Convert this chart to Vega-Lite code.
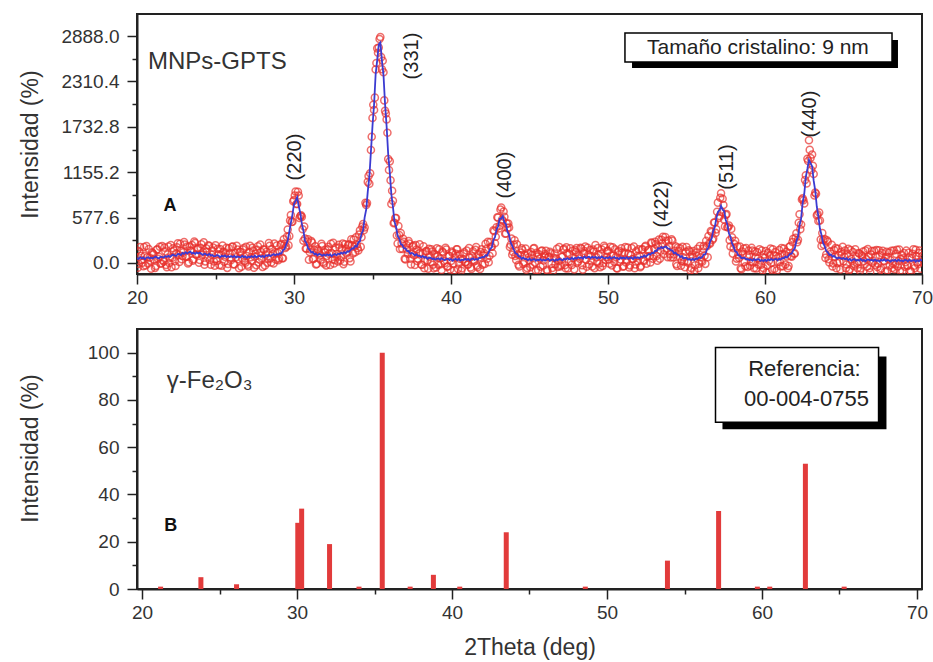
{
"$schema":"https://vega.github.io/schema/vega-lite/v6.json",
"background":"white",
"padding":{"left":18,"top":13,"right":0,"bottom":0},
"spacing":20,
"config":{"font":"Liberation Sans","view":{"stroke":"#222","strokeWidth":2},
"axis":{"domainColor":"#222","domainWidth":2,"tickColor":"#222","tickWidth":1.5,"labelColor":"#333","labelFontSize":19,"labelFont":"Liberation Sans","titleFont":"Liberation Sans","titleFontSize":23,"titleFontWeight":"normal","titleColor":"#333","grid":false,"labelFlush":false,"labelOverlap":false}},
"datasets":{
"xrd":[
{"t":20,"v":160,"f":65},{"t":20.1,"v":-10,"f":50},{"t":20.2,"v":203,"f":73},{"t":20.3,"v":38,"f":58},{"t":20.4,"v":-40,"f":70},{"t":20.5,"v":87,"f":47},{"t":20.6,"v":217,"f":67},{"t":20.7,"v":-7,"f":73},{"t":20.8,"v":68,"f":58},{"t":20.9,"v":-73,"f":67},
{"t":21,"v":128,"f":58},{"t":21.1,"v":43,"f":73},{"t":21.2,"v":-38,"f":82},{"t":21.3,"v":174,"f":64},{"t":21.4,"v":78,"f":58},{"t":21.5,"v":-10,"f":80},{"t":21.6,"v":216,"f":76},{"t":21.7,"v":18,"f":68},{"t":21.8,"v":148,"f":88},{"t":21.9,"v":-54,"f":76},
{"t":22,"v":210,"f":90},{"t":22.1,"v":68,"f":78},{"t":22.2,"v":-55,"f":95},{"t":22.3,"v":188,"f":108},{"t":22.4,"v":23,"f":93},{"t":22.5,"v":122,"f":92},{"t":22.6,"v":250,"f":115},{"t":22.7,"v":13,"f":113},{"t":22.8,"v":151,"f":101},{"t":22.9,"v":89,"f":129},
{"t":23,"v":267,"f":117},{"t":23.1,"v":77,"f":137},{"t":23.2,"v":209,"f":119},{"t":23.3,"v":10,"f":135},{"t":23.4,"v":160,"f":145},{"t":23.5,"v":230,"f":120},{"t":23.6,"v":47,"f":132},{"t":23.7,"v":255,"f":115},{"t":23.8,"v":105,"f":135},{"t":23.9,"v":187,"f":122},
{"t":24,"v":37,"f":132},{"t":24.1,"v":239,"f":114},{"t":24.2,"v":138,"f":103},{"t":24.3,"v":-21,"f":119},{"t":24.4,"v":186,"f":111},{"t":24.5,"v":77,"f":97},{"t":24.6,"v":217,"f":117},{"t":24.7,"v":-21,"f":94},{"t":24.8,"v":157,"f":102},{"t":24.9,"v":19,"f":84},
{"t":25,"v":226,"f":86},{"t":25.1,"v":26,"f":101},{"t":25.2,"v":112,"f":92},{"t":25.3,"v":178,"f":73},{"t":25.4,"v":-36,"f":94},{"t":25.5,"v":143,"f":83},{"t":25.6,"v":81,"f":96},{"t":25.7,"v":194,"f":74},{"t":25.8,"v":-12,"f":88},{"t":25.9,"v":121,"f":76},
{"t":26,"v":39,"f":89},{"t":26.1,"v":209,"f":74},{"t":26.2,"v":-18,"f":92},{"t":26.3,"v":73,"f":68},{"t":26.4,"v":172,"f":82},{"t":26.5,"v":-66,"f":79},{"t":26.6,"v":140,"f":70},{"t":26.7,"v":57,"f":92},{"t":26.8,"v":189,"f":74},{"t":26.9,"v":4,"f":84},
{"t":27,"v":90,"f":65},{"t":27.1,"v":-43,"f":82},{"t":27.2,"v":219,"f":74},{"t":27.3,"v":28,"f":88},{"t":27.4,"v":157,"f":72},{"t":27.5,"v":79,"f":94},{"t":27.6,"v":-29,"f":71},{"t":27.7,"v":214,"f":84},{"t":27.8,"v":46,"f":91},{"t":27.9,"v":138,"f":78},
{"t":28,"v":-49,"f":91},{"t":28.1,"v":168,"f":73},{"t":28.2,"v":107,"f":97},{"t":28.3,"v":4,"f":89},{"t":28.4,"v":253,"f":103},{"t":28.5,"v":57,"f":87},{"t":28.6,"v":177,"f":102},{"t":28.7,"v":-7,"f":113},{"t":28.8,"v":136,"f":96},{"t":28.9,"v":222,"f":112},
{"t":29,"v":36,"f":106},{"t":29.1,"v":144,"f":124},{"t":29.2,"v":245,"f":120},{"t":29.3,"v":60,"f":165},{"t":29.4,"v":241,"f":176},{"t":29.5,"v":208,"f":233},{"t":29.6,"v":425,"f":285},{"t":29.7,"v":342,"f":397},{"t":29.8,"v":611,"f":511},{"t":29.9,"v":526,"f":616},
{"t":30,"v":800,"f":750},{"t":30.1,"v":909,"f":789},{"t":30.2,"v":750,"f":835},{"t":30.3,"v":859,"f":724},{"t":30.4,"v":597,"f":637},{"t":30.5,"v":587,"f":497},{"t":30.6,"v":282,"f":412},{"t":30.7,"v":311,"f":281},{"t":30.8,"v":181,"f":251},{"t":30.9,"v":301,"f":186},
{"t":31,"v":139,"f":169},{"t":31.1,"v":279,"f":134},{"t":31.2,"v":47,"f":142},{"t":31.3,"v":166,"f":111},{"t":31.4,"v":-20,"f":120},{"t":31.5,"v":176,"f":96},{"t":31.6,"v":121,"f":116},{"t":31.7,"v":42,"f":107},{"t":31.8,"v":217,"f":92},{"t":31.9,"v":-7,"f":108},
{"t":32,"v":164,"f":94},{"t":32.1,"v":91,"f":111},{"t":32.2,"v":207,"f":97},{"t":32.3,"v":-26,"f":109},{"t":32.4,"v":122,"f":87},{"t":32.5,"v":256,"f":106},{"t":32.6,"v":39,"f":114},{"t":32.7,"v":113,"f":98},{"t":32.8,"v":18,"f":118},{"t":32.9,"v":197,"f":112},
{"t":33,"v":76,"f":131},{"t":33.1,"v":248,"f":118},{"t":33.2,"v":17,"f":137},{"t":33.3,"v":184,"f":124},{"t":33.4,"v":139,"f":149},{"t":33.5,"v":238,"f":143},{"t":33.6,"v":20,"f":165},{"t":33.7,"v":228,"f":188},{"t":33.8,"v":297,"f":182},{"t":33.9,"v":138,"f":218},
{"t":34,"v":233,"f":208},{"t":34.1,"v":160,"f":265},{"t":34.2,"v":415,"f":275},{"t":34.3,"v":328,"f":373},{"t":34.4,"v":495,"f":415},{"t":34.5,"v":451,"f":581},{"t":34.6,"v":738,"f":683},{"t":34.7,"v":1032,"f":912},{"t":34.8,"v":1008,"f":1098},{"t":34.9,"v":1437,"f":1417},
{"t":35,"v":1844,"f":1744},{"t":35.1,"v":1947,"f":2017},{"t":35.2,"v":2461,"f":2401},{"t":35.3,"v":2731,"f":2581},{"t":35.4,"v":2741,"f":2781},{"t":35.5,"v":2876,"f":2806},{"t":35.6,"v":2466,"f":2576},{"t":35.7,"v":2426,"f":2391},{"t":35.8,"v":1937,"f":2022},{"t":35.9,"v":1827,"f":1737},
{"t":36,"v":1323,"f":1383},{"t":36.1,"v":1293,"f":1158},{"t":36.2,"v":751,"f":876},{"t":36.3,"v":792,"f":717},{"t":36.4,"v":511,"f":526},{"t":36.5,"v":571,"f":461},{"t":36.6,"v":249,"f":344},{"t":36.7,"v":356,"f":311},{"t":36.8,"v":381,"f":241},{"t":36.9,"v":180,"f":230},
{"t":37,"v":271,"f":186},{"t":37.1,"v":46,"f":186},{"t":37.2,"v":172,"f":152},{"t":37.3,"v":278,"f":153},{"t":37.4,"v":53,"f":118},{"t":37.5,"v":118,"f":128},{"t":37.6,"v":222,"f":117},{"t":37.7,"v":-25,"f":95},{"t":37.8,"v":171,"f":111},{"t":37.9,"v":53,"f":88},
{"t":38,"v":238,"f":93},{"t":38.1,"v":-18,"f":72},{"t":38.2,"v":120,"f":90},{"t":38.3,"v":-66,"f":69},{"t":38.4,"v":148,"f":78},{"t":38.5,"v":32,"f":52},{"t":38.6,"v":182,"f":67},{"t":38.7,"v":13,"f":68},{"t":38.8,"v":147,"f":52},{"t":38.9,"v":-68,"f":57},
{"t":39,"v":82,"f":42},{"t":39.1,"v":186,"f":56},{"t":39.2,"v":-21,"f":59},{"t":39.3,"v":57,"f":42},{"t":39.4,"v":-90,"f":60},{"t":39.5,"v":134,"f":44},{"t":39.6,"v":0,"f":35},{"t":39.7,"v":170,"f":50},{"t":39.8,"v":-45,"f":55},{"t":39.9,"v":92,"f":37},
{"t":40,"v":25,"f":50},{"t":40.1,"v":129,"f":29},{"t":40.2,"v":-96,"f":44},{"t":40.3,"v":117,"f":52},{"t":40.4,"v":174,"f":34},{"t":40.5,"v":-6,"f":54},{"t":40.6,"v":51,"f":31},{"t":40.7,"v":-68,"f":42},{"t":40.8,"v":117,"f":37},{"t":40.9,"v":7,"f":52},
{"t":41,"v":159,"f":39},{"t":41.1,"v":-18,"f":52},{"t":41.2,"v":66,"f":31},{"t":41.3,"v":-75,"f":50},{"t":41.4,"v":148,"f":58},{"t":41.5,"v":25,"f":40},{"t":41.6,"v":202,"f":52},{"t":41.7,"v":-53,"f":42},{"t":41.8,"v":69,"f":64},{"t":41.9,"v":140,"f":65},
{"t":42,"v":-23,"f":77},{"t":42.1,"v":126,"f":71},{"t":42.2,"v":243,"f":98},{"t":42.3,"v":53,"f":93},{"t":42.4,"v":9,"f":139},{"t":42.5,"v":266,"f":181},{"t":42.6,"v":207,"f":197},{"t":42.7,"v":416,"f":291},{"t":42.8,"v":252,"f":327},{"t":42.9,"v":454,"f":424},
{"t":43,"v":577,"f":467},{"t":43.1,"v":475,"f":565},{"t":43.2,"v":705,"f":565},{"t":43.3,"v":535,"f":595},{"t":43.4,"v":587,"f":517},{"t":43.5,"v":376,"f":496},{"t":43.6,"v":444,"f":399},{"t":43.7,"v":451,"f":356},{"t":43.8,"v":232,"f":262},{"t":43.9,"v":104,"f":219},
{"t":44,"v":232,"f":172},{"t":44.1,"v":88,"f":123},{"t":44.2,"v":238,"f":118},{"t":44.3,"v":-22,"f":83},{"t":44.4,"v":97,"f":82},{"t":44.5,"v":186,"f":51},{"t":44.6,"v":-13,"f":67},{"t":44.7,"v":100,"f":50},{"t":44.8,"v":-86,"f":54},{"t":44.9,"v":124,"f":34},
{"t":45,"v":35,"f":55},{"t":45.1,"v":139,"f":34},{"t":45.2,"v":-23,"f":42},{"t":45.3,"v":189,"f":49},{"t":45.4,"v":-93,"f":27},{"t":45.5,"v":83,"f":43},{"t":45.6,"v":110,"f":35},{"t":45.7,"v":-46,"f":49},{"t":45.8,"v":160,"f":30},{"t":45.9,"v":33,"f":43},
{"t":46,"v":115,"f":30},{"t":46.1,"v":-85,"f":45},{"t":46.2,"v":77,"f":52},{"t":46.3,"v":143,"f":28},{"t":46.4,"v":-10,"f":40},{"t":46.5,"v":-100,"f":45},{"t":46.6,"v":120,"f":25},{"t":46.7,"v":56,"f":46},{"t":46.8,"v":-50,"f":35},{"t":46.9,"v":203,"f":53},
{"t":47,"v":-29,"f":46},{"t":47.1,"v":78,"f":33},{"t":47.2,"v":180,"f":55},{"t":47.3,"v":-68,"f":42},{"t":47.4,"v":128,"f":63},{"t":47.5,"v":20,"f":50},{"t":47.6,"v":186,"f":46},{"t":47.7,"v":-24,"f":66},{"t":47.8,"v":64,"f":44},{"t":47.9,"v":165,"f":65},
{"t":48,"v":190,"f":55},{"t":48.1,"v":20,"f":75},{"t":48.2,"v":56,"f":61},{"t":48.3,"v":183,"f":73},{"t":48.4,"v":-84,"f":56},{"t":48.5,"v":152,"f":82},{"t":48.6,"v":43,"f":63},{"t":48.7,"v":194,"f":74},{"t":48.8,"v":-20,"f":80},{"t":48.9,"v":90,"f":60},
{"t":49,"v":-45,"f":80},{"t":49.1,"v":146,"f":66},{"t":49.2,"v":227,"f":77},{"t":49.3,"v":13,"f":58},{"t":49.4,"v":109,"f":74},{"t":49.5,"v":-54,"f":61},{"t":49.6,"v":172,"f":82},{"t":49.7,"v":-3,"f":67},{"t":49.8,"v":198,"f":58},{"t":49.9,"v":80,"f":70},
{"t":50,"v":155,"f":60},{"t":50.1,"v":-8,"f":77},{"t":50.2,"v":95,"f":55},{"t":50.3,"v":199,"f":69},{"t":50.4,"v":17,"f":77},{"t":50.5,"v":72,"f":57},{"t":50.6,"v":-70,"f":65},{"t":50.7,"v":154,"f":49},{"t":50.8,"v":46,"f":71},{"t":50.9,"v":129,"f":59},
{"t":51,"v":-40,"f":70},{"t":51.1,"v":202,"f":57},{"t":51.2,"v":39,"f":74},{"t":51.3,"v":118,"f":53},{"t":51.4,"v":-30,"f":65},{"t":51.5,"v":189,"f":69},{"t":51.6,"v":50,"f":50},{"t":51.7,"v":-66,"f":74},{"t":51.8,"v":149,"f":64},{"t":51.9,"v":24,"f":74},
{"t":52,"v":89,"f":59},{"t":52.1,"v":-38,"f":82},{"t":52.2,"v":173,"f":73},{"t":52.3,"v":26,"f":96},{"t":52.4,"v":220,"f":80},{"t":52.5,"v":82,"f":97},{"t":52.6,"v":170,"f":115},{"t":52.7,"v":7,"f":107},{"t":52.8,"v":255,"f":130},{"t":52.9,"v":85,"f":125},
{"t":53,"v":271,"f":156},{"t":53.1,"v":88,"f":153},{"t":53.2,"v":209,"f":189},{"t":53.3,"v":54,"f":184},{"t":53.4,"v":294,"f":204},{"t":53.5,"v":332,"f":187},{"t":53.6,"v":161,"f":206},{"t":53.7,"v":281,"f":211},{"t":53.8,"v":75,"f":185},{"t":53.9,"v":217,"f":182},
{"t":54,"v":70,"f":160},{"t":54.1,"v":284,"f":159},{"t":54.2,"v":109,"f":124},{"t":54.3,"v":212,"f":132},{"t":54.4,"v":-38,"f":107},{"t":54.5,"v":154,"f":104},{"t":54.6,"v":187,"f":77},{"t":54.7,"v":29,"f":89},{"t":54.8,"v":72,"f":57},{"t":54.9,"v":-54,"f":66},
{"t":55,"v":204,"f":64},{"t":55.1,"v":3,"f":43},{"t":55.2,"v":145,"f":50},{"t":55.3,"v":-63,"f":37},{"t":55.4,"v":80,"f":55},{"t":55.5,"v":-100,"f":35},{"t":55.6,"v":131,"f":56},{"t":55.7,"v":181,"f":51},{"t":55.8,"v":-8,"f":72},{"t":55.9,"v":73,"f":63},
{"t":56,"v":15,"f":75},{"t":56.1,"v":215,"f":110},{"t":56.2,"v":-11,"f":109},{"t":56.3,"v":214,"f":169},{"t":56.4,"v":343,"f":193},{"t":56.5,"v":246,"f":271},{"t":56.6,"v":394,"f":309},{"t":56.7,"v":313,"f":408},{"t":56.8,"v":516,"f":456},{"t":56.9,"v":428,"f":568},
{"t":57,"v":768,"f":648},{"t":57.1,"v":598,"f":668},{"t":57.2,"v":887,"f":727},{"t":57.3,"v":818,"f":678},{"t":57.4,"v":552,"f":662},{"t":57.5,"v":612,"f":547},{"t":57.6,"v":455,"f":490},{"t":57.7,"v":478,"f":378},{"t":57.8,"v":209,"f":334},{"t":57.9,"v":328,"f":248},
{"t":58,"v":188,"f":208},{"t":58.1,"v":284,"f":149},{"t":58.2,"v":56,"f":141},{"t":58.3,"v":107,"f":97},{"t":58.4,"v":208,"f":93},{"t":58.5,"v":-80,"f":60},{"t":58.6,"v":115,"f":65},{"t":58.7,"v":12,"f":67},{"t":58.8,"v":190,"f":45},{"t":58.9,"v":-50,"f":50},
{"t":59,"v":106,"f":36},{"t":59.1,"v":16,"f":46},{"t":59.2,"v":158,"f":28},{"t":59.3,"v":-65,"f":50},{"t":59.4,"v":76,"f":36},{"t":59.5,"v":140,"f":45},{"t":59.6,"v":-22,"f":48},{"t":59.7,"v":32,"f":27},{"t":59.8,"v":157,"f":37},{"t":59.9,"v":-65,"f":25},
{"t":60,"v":67,"f":42},{"t":60.1,"v":-120,"f":25},{"t":60.2,"v":131,"f":46},{"t":60.3,"v":94,"f":34},{"t":60.4,"v":2,"f":52},{"t":60.5,"v":174,"f":34},{"t":60.6,"v":-76,"f":44},{"t":60.7,"v":89,"f":54},{"t":60.8,"v":17,"f":32},{"t":60.9,"v":164,"f":54},
{"t":61,"v":-43,"f":42},{"t":61.1,"v":114,"f":64},{"t":61.2,"v":183,"f":58},{"t":61.3,"v":-19,"f":81},{"t":61.4,"v":84,"f":69},{"t":61.5,"v":-38,"f":92},{"t":61.6,"v":212,"f":117},{"t":61.7,"v":79,"f":119},{"t":61.8,"v":309,"f":164},{"t":61.9,"v":122,"f":187},
{"t":62,"v":379,"f":279},{"t":62.1,"v":296,"f":331},{"t":62.2,"v":620,"f":480},{"t":62.3,"v":490,"f":565},{"t":62.4,"v":824,"f":769},{"t":62.5,"v":758,"f":878},{"t":62.6,"v":1116,"f":1096},{"t":62.7,"v":1326,"f":1196},{"t":62.8,"v":1562,"f":1312},{"t":62.9,"v":1335,"f":1270},
{"t":63,"v":1381,"f":1231},{"t":63.1,"v":1132,"f":1047},{"t":63.2,"v":895,"f":920},{"t":63.3,"v":606,"f":716},{"t":63.4,"v":535,"f":595},{"t":63.5,"v":540,"f":435},{"t":63.6,"v":216,"f":356},{"t":63.7,"v":293,"f":253},{"t":63.8,"v":304,"f":214},{"t":63.9,"v":108,"f":153},
{"t":64,"v":271,"f":136},{"t":64.1,"v":7,"f":102},{"t":64.2,"v":117,"f":107},{"t":64.3,"v":-44,"f":81},{"t":64.4,"v":166,"f":91},{"t":64.5,"v":189,"f":69},{"t":64.6,"v":1,"f":56},{"t":64.7,"v":101,"f":71},{"t":64.8,"v":-82,"f":63},{"t":64.9,"v":111,"f":51},
{"t":65,"v":22,"f":62},{"t":65.1,"v":160,"f":45},{"t":65.2,"v":-20,"f":60},{"t":65.3,"v":181,"f":36},{"t":65.4,"v":-79,"f":51},{"t":65.5,"v":49,"f":29},{"t":65.6,"v":139,"f":44},{"t":65.7,"v":-15,"f":50},{"t":65.8,"v":81,"f":31},{"t":65.9,"v":-65,"f":40},
{"t":66,"v":121,"f":31},{"t":66.1,"v":-70,"f":50},{"t":66.2,"v":87,"f":27},{"t":66.3,"v":24,"f":39},{"t":66.4,"v":158,"f":23},{"t":66.5,"v":-48,"f":42},{"t":66.6,"v":80,"f":45},{"t":66.7,"v":-119,"f":31},{"t":66.8,"v":151,"f":41},{"t":66.9,"v":29,"f":24},
{"t":67,"v":-26,"f":44},{"t":67.1,"v":166,"f":26},{"t":67.2,"v":-10,"f":35},{"t":67.3,"v":100,"f":20},{"t":67.4,"v":-68,"f":42},{"t":67.5,"v":154,"f":29},{"t":67.6,"v":22,"f":47},{"t":67.7,"v":80,"f":25},{"t":67.8,"v":-97,"f":38},{"t":67.9,"v":132,"f":32},
{"t":68,"v":34,"f":19},{"t":68.1,"v":-63,"f":37},{"t":68.2,"v":158,"f":28},{"t":68.3,"v":-19,"f":41},{"t":68.4,"v":167,"f":22},{"t":68.5,"v":24,"f":44},{"t":68.6,"v":-99,"f":26},{"t":68.7,"v":103,"f":33},{"t":68.8,"v":61,"f":21},{"t":68.9,"v":-46,"f":39},
{"t":69,"v":157,"f":37},{"t":69.1,"v":-31,"f":19},{"t":69.2,"v":69,"f":44},{"t":69.3,"v":-114,"f":26},{"t":69.4,"v":116,"f":31},{"t":69.5,"v":-36,"f":39},{"t":69.6,"v":167,"f":17},{"t":69.7,"v":6,"f":36},{"t":69.8,"v":127,"f":22},{"t":69.9,"v":-73,"f":42},
{"t":70,"v":90,"f":30}
],
"xrd2":[
{"t":20.05,"v":-60},{"t":20.15,"v":146},{"t":20.25,"v":91},{"t":20.35,"v":2},{"t":20.45,"v":202},{"t":20.55,"v":-32},{"t":20.65,"v":73},{"t":20.75,"v":179},{"t":20.85,"v":30},{"t":20.95,"v":136},
{"t":21.05,"v":112},{"t":21.15,"v":-62},{"t":21.25,"v":169},{"t":21.35,"v":55},{"t":21.45,"v":206},{"t":21.55,"v":-3},{"t":21.65,"v":34},{"t":21.75,"v":196},{"t":21.85,"v":-26},{"t":21.95,"v":107},
{"t":22.05,"v":0},{"t":22.15,"v":229},{"t":22.25,"v":68},{"t":22.35,"v":157},{"t":22.45,"v":-39},{"t":22.55,"v":200},{"t":22.65,"v":104},{"t":22.75,"v":243},{"t":22.85,"v":47},{"t":22.95,"v":136},
{"t":23.05,"v":234},{"t":23.15,"v":81},{"t":23.25,"v":-7},{"t":23.35,"v":210},{"t":23.45,"v":155},{"t":23.55,"v":30},{"t":23.65,"v":274},{"t":23.75,"v":107},{"t":23.85,"v":180},{"t":23.95,"v":3},
{"t":24.05,"v":195},{"t":24.15,"v":102},{"t":24.25,"v":264},{"t":24.35,"v":21},{"t":24.45,"v":143},{"t":24.55,"v":225},{"t":24.65,"v":42},{"t":24.75,"v":104},{"t":24.85,"v":196},{"t":24.95,"v":-36},
{"t":25.05,"v":52},{"t":25.15,"v":180},{"t":25.25,"v":-27},{"t":25.35,"v":107},{"t":25.45,"v":221},{"t":25.55,"v":15},{"t":25.65,"v":134},{"t":25.75,"v":-62},{"t":25.85,"v":187},{"t":25.95,"v":71},
{"t":26.05,"v":205},{"t":26.15,"v":-15},{"t":26.25,"v":124},{"t":26.35,"v":219},{"t":26.45,"v":48},{"t":26.55,"v":143},{"t":26.65,"v":-47},{"t":26.75,"v":172},{"t":26.85,"v":22},{"t":26.95,"v":207},
{"t":27.05,"v":-23},{"t":27.15,"v":138},{"t":27.25,"v":73},{"t":27.35,"v":194},{"t":27.45,"v":-60},{"t":27.55,"v":116},{"t":27.65,"v":167},{"t":27.75,"v":8},{"t":27.85,"v":234},{"t":27.95,"v":60},
{"t":28.05,"v":176},{"t":28.15,"v":-33},{"t":28.25,"v":144},{"t":28.35,"v":56},{"t":28.45,"v":219},{"t":28.55,"v":7},{"t":28.65,"v":115},{"t":28.75,"v":248},{"t":28.85,"v":42},{"t":28.95,"v":130},
{"t":29.05,"v":58},{"t":29.15,"v":233},{"t":29.25,"v":60},{"t":29.35,"v":301},{"t":29.45,"v":191},{"t":29.55,"v":334},{"t":29.65,"v":224},{"t":29.75,"v":541},{"t":29.85,"v":523},{"t":29.95,"v":786},
{"t":30.05,"v":859},{"t":30.15,"v":750},{"t":30.25,"v":905},{"t":30.35,"v":573},{"t":30.45,"v":606},{"t":30.55,"v":430},{"t":30.65,"v":464},{"t":30.75,"v":185},{"t":30.85,"v":274},{"t":30.95,"v":41},
{"t":31.05,"v":171},{"t":31.15,"v":260},{"t":31.25,"v":55},{"t":31.35,"v":213},{"t":31.45,"v":-12},{"t":31.55,"v":159},{"t":31.65,"v":97},{"t":31.75,"v":244},{"t":31.85,"v":13},{"t":31.95,"v":136},
{"t":32.05,"v":-30},{"t":32.15,"v":175},{"t":32.25,"v":116},{"t":32.35,"v":246},{"t":32.45,"v":46},{"t":32.55,"v":-7},{"t":32.65,"v":196},{"t":32.75,"v":84},{"t":32.85,"v":233},{"t":32.95,"v":36},
{"t":33.05,"v":181},{"t":33.15,"v":-14},{"t":33.25,"v":237},{"t":33.35,"v":120},{"t":33.45,"v":227},{"t":33.55,"v":62},{"t":33.65,"v":303},{"t":33.75,"v":122},{"t":33.85,"v":209},{"t":33.95,"v":328},
{"t":34.05,"v":189},{"t":34.15,"v":363},{"t":34.25,"v":205},{"t":34.35,"v":463},{"t":34.45,"v":416},{"t":34.55,"v":765},{"t":34.65,"v":764},{"t":34.75,"v":1108},{"t":34.85,"v":1141},{"t":34.95,"v":1607},
{"t":35.05,"v":2013},{"t":35.15,"v":2104},{"t":35.25,"v":2544},{"t":35.35,"v":2674},{"t":35.45,"v":2850},{"t":35.55,"v":2619},{"t":35.65,"v":2574},{"t":35.75,"v":2069},{"t":35.85,"v":1903},{"t":35.95,"v":1657},
{"t":36.05,"v":1183},{"t":36.15,"v":1052},{"t":36.25,"v":918},{"t":36.35,"v":507},{"t":36.45,"v":572},{"t":36.55,"v":349},{"t":36.65,"v":471},{"t":36.75,"v":178},{"t":36.85,"v":250},{"t":36.95,"v":307},
{"t":37.05,"v":54},{"t":37.15,"v":231},{"t":37.25,"v":116},{"t":37.35,"v":248},{"t":37.45,"v":-18},{"t":37.55,"v":208},{"t":37.65,"v":100},{"t":37.75,"v":227},{"t":37.85,"v":25},{"t":37.95,"v":119},
{"t":38.05,"v":134},{"t":38.15,"v":-26},{"t":38.25,"v":214},{"t":38.35,"v":25},{"t":38.45,"v":151},{"t":38.55,"v":-72},{"t":38.65,"v":81},{"t":38.75,"v":174},{"t":38.85,"v":-23},{"t":38.95,"v":114},
{"t":39.05,"v":-57},{"t":39.15,"v":86},{"t":39.25,"v":175},{"t":39.35,"v":-17},{"t":39.45,"v":147},{"t":39.55,"v":26},{"t":39.65,"v":195},{"t":39.75,"v":-46},{"t":39.85,"v":88},{"t":39.95,"v":-83},
{"t":40.05,"v":147},{"t":40.15,"v":-9},{"t":40.25,"v":71},{"t":40.35,"v":176},{"t":40.45,"v":-75},{"t":40.55,"v":110},{"t":40.65,"v":-99},{"t":40.75,"v":46},{"t":40.85,"v":137},{"t":40.95,"v":12},
{"t":41.05,"v":-22},{"t":41.15,"v":189},{"t":41.25,"v":-56},{"t":41.35,"v":85},{"t":41.45,"v":37},{"t":41.55,"v":169},{"t":41.65,"v":-33},{"t":41.75,"v":115},{"t":41.85,"v":-76},{"t":41.95,"v":174},
{"t":42.05,"v":97},{"t":42.15,"v":-11},{"t":42.25,"v":179},{"t":42.35,"v":271},{"t":42.45,"v":92},{"t":42.55,"v":207},{"t":42.65,"v":123},{"t":42.75,"v":404},{"t":42.85,"v":334},{"t":42.95,"v":582},
{"t":43.05,"v":438},{"t":43.15,"v":680},{"t":43.25,"v":552},{"t":43.35,"v":655},{"t":43.45,"v":372},{"t":43.55,"v":501},{"t":43.65,"v":503},{"t":43.75,"v":203},{"t":43.85,"v":312},{"t":43.95,"v":140},
{"t":44.05,"v":290},{"t":44.15,"v":39},{"t":44.25,"v":107},{"t":44.35,"v":-44},{"t":44.45,"v":134},{"t":44.55,"v":166},{"t":44.65,"v":10},{"t":44.75,"v":185},{"t":44.85,"v":-63},{"t":44.95,"v":74},
{"t":45.05,"v":-53},{"t":45.15,"v":101},{"t":45.25,"v":185},{"t":45.35,"v":5},{"t":45.45,"v":129},{"t":45.55,"v":-92},{"t":45.65,"v":58},{"t":45.75,"v":153},{"t":45.85,"v":-32},{"t":45.95,"v":89},
{"t":46.05,"v":154},{"t":46.15,"v":-101},{"t":46.25,"v":78},{"t":46.35,"v":123},{"t":46.45,"v":-63},{"t":46.55,"v":63},{"t":46.65,"v":-16},{"t":46.75,"v":180},{"t":46.85,"v":26},{"t":46.95,"v":-43},
{"t":47.05,"v":78},{"t":47.15,"v":170},{"t":47.25,"v":-28},{"t":47.35,"v":199},{"t":47.45,"v":-69},{"t":47.55,"v":113},{"t":47.65,"v":20},{"t":47.75,"v":157},{"t":47.85,"v":-81},{"t":47.95,"v":141},
{"t":48.05,"v":3},{"t":48.15,"v":84},{"t":48.25,"v":195},{"t":48.35,"v":-29},{"t":48.45,"v":122},{"t":48.55,"v":208},{"t":48.65,"v":-47},{"t":48.75,"v":104},{"t":48.85,"v":164},{"t":48.95,"v":25},
{"t":49.05,"v":170},{"t":49.15,"v":-65},{"t":49.25,"v":75},{"t":49.35,"v":190},{"t":49.45,"v":-6},{"t":49.55,"v":114},{"t":49.65,"v":-37},{"t":49.75,"v":218},{"t":49.85,"v":37},{"t":49.95,"v":152},
{"t":50.05,"v":46},{"t":50.15,"v":206},{"t":50.25,"v":-30},{"t":50.35,"v":95},{"t":50.45,"v":174},{"t":50.55,"v":-66},{"t":50.65,"v":138},{"t":50.75,"v":13},{"t":50.85,"v":187},{"t":50.95,"v":-48},
{"t":51.05,"v":132},{"t":51.15,"v":7},{"t":51.25,"v":197},{"t":51.35,"v":-58},{"t":51.45,"v":102},{"t":51.55,"v":48},{"t":51.65,"v":209},{"t":51.75,"v":-20},{"t":51.85,"v":87},{"t":51.95,"v":174},
{"t":52.05,"v":-53},{"t":52.15,"v":170},{"t":52.25,"v":35},{"t":52.35,"v":205},{"t":52.45,"v":-8},{"t":52.55,"v":160},{"t":52.65,"v":89},{"t":52.75,"v":260},{"t":52.85,"v":56},{"t":52.95,"v":179},
{"t":53.05,"v":237},{"t":53.15,"v":30},{"t":53.25,"v":297},{"t":53.35,"v":156},{"t":53.45,"v":248},{"t":53.55,"v":112},{"t":53.65,"v":331},{"t":53.75,"v":180},{"t":53.85,"v":286},{"t":53.95,"v":113},
{"t":54.05,"v":303},{"t":54.15,"v":74},{"t":54.25,"v":154},{"t":54.35,"v":-14},{"t":54.45,"v":198},{"t":54.55,"v":82},{"t":54.65,"v":-34},{"t":54.75,"v":207},{"t":54.85,"v":15},{"t":54.95,"v":142},
{"t":55.05,"v":21},{"t":55.15,"v":163},{"t":55.25,"v":-93},{"t":55.35,"v":107},{"t":55.45,"v":153},{"t":55.55,"v":-30},{"t":55.65,"v":88},{"t":55.75,"v":-67},{"t":55.85,"v":216},{"t":55.95,"v":32},
{"t":56.05,"v":182},{"t":56.15,"v":92},{"t":56.25,"v":281},{"t":56.35,"v":73},{"t":56.45,"v":251},{"t":56.55,"v":406},{"t":56.65,"v":292},{"t":56.75,"v":515},{"t":56.85,"v":383},{"t":56.95,"v":651},
{"t":57.05,"v":572},{"t":57.15,"v":830},{"t":57.25,"v":650},{"t":57.35,"v":739},{"t":57.45,"v":465},{"t":57.55,"v":622},{"t":57.65,"v":454},{"t":57.75,"v":290},{"t":57.85,"v":434},{"t":57.95,"v":119},
{"t":58.05,"v":241},{"t":58.15,"v":18},{"t":58.25,"v":210},{"t":58.35,"v":64},{"t":58.45,"v":-66},{"t":58.55,"v":147},{"t":58.65,"v":184},{"t":58.75,"v":-41},{"t":58.85,"v":90},{"t":58.95,"v":157},
{"t":59.05,"v":-36},{"t":59.15,"v":192},{"t":59.25,"v":6},{"t":59.35,"v":145},{"t":59.45,"v":-71},{"t":59.55,"v":57},{"t":59.65,"v":176},{"t":59.75,"v":-24},{"t":59.85,"v":-94},{"t":59.95,"v":107},
{"t":60.05,"v":152},{"t":60.15,"v":-33},{"t":60.25,"v":28},{"t":60.35,"v":184},{"t":60.45,"v":-85},{"t":60.55,"v":97},{"t":60.65,"v":138},{"t":60.75,"v":-95},{"t":60.85,"v":77},{"t":60.95,"v":10},
{"t":61.05,"v":190},{"t":61.15,"v":-41},{"t":61.25,"v":110},{"t":61.35,"v":144},{"t":61.45,"v":-67},{"t":61.55,"v":206},{"t":61.65,"v":89},{"t":61.75,"v":266},{"t":61.85,"v":118},{"t":61.95,"v":320},
{"t":62.05,"v":264},{"t":62.15,"v":512},{"t":62.25,"v":430},{"t":62.35,"v":807},{"t":62.45,"v":798},{"t":62.55,"v":1055},{"t":62.65,"v":1013},{"t":62.75,"v":1298},{"t":62.85,"v":1439},{"t":62.95,"v":1183},
{"t":63.05,"v":1237},{"t":63.15,"v":859},{"t":63.25,"v":882},{"t":63.35,"v":621},{"t":63.45,"v":643},{"t":63.55,"v":300},{"t":63.65,"v":382},{"t":63.75,"v":232},{"t":63.85,"v":65},{"t":63.95,"v":288},
{"t":64.05,"v":47},{"t":64.15,"v":144},{"t":64.25,"v":232},{"t":64.35,"v":-7},{"t":64.45,"v":80},{"t":64.55,"v":-66},{"t":64.65,"v":180},{"t":64.75,"v":12},{"t":64.85,"v":144},{"t":64.95,"v":206},
{"t":65.05,"v":82},{"t":65.15,"v":-66},{"t":65.25,"v":117},{"t":65.35,"v":-99},{"t":65.45,"v":164},{"t":65.55,"v":22},{"t":65.65,"v":-39},{"t":65.75,"v":175},{"t":65.85,"v":-1},{"t":65.95,"v":128},
{"t":66.05,"v":-103},{"t":66.15,"v":102},{"t":66.25,"v":146},{"t":66.35,"v":-20},{"t":66.45,"v":50},{"t":66.55,"v":179},{"t":66.65,"v":-66},{"t":66.75,"v":109},{"t":66.85,"v":4},{"t":66.95,"v":154},
{"t":67.05,"v":83},{"t":67.15,"v":-52},{"t":67.25,"v":163},{"t":67.35,"v":-87},{"t":67.45,"v":128},{"t":67.55,"v":28},{"t":67.65,"v":-112},{"t":67.75,"v":143},{"t":67.85,"v":73},{"t":67.95,"v":-32},
{"t":68.05,"v":156},{"t":68.15,"v":-9},{"t":68.25,"v":-79},{"t":68.35,"v":116},{"t":68.45,"v":-44},{"t":68.55,"v":171},{"t":68.65,"v":51},{"t":68.75,"v":-104},{"t":68.85,"v":126},{"t":68.95,"v":11},
{"t":69.05,"v":-30},{"t":69.15,"v":130},{"t":69.25,"v":-95},{"t":69.35,"v":65},{"t":69.45,"v":175},{"t":69.55,"v":-65},{"t":69.65,"v":90},{"t":69.75,"v":-15},{"t":69.85,"v":160},{"t":69.95,"v":20}
],
"ref":[
{"t":21.2,"v":1},{"t":23.8,"v":5},{"t":26.1,"v":2},{"t":30.05,"v":28},{"t":30.3,"v":34},{"t":32.1,"v":19},{"t":34.0,"v":1},{"t":35.5,"v":100},{"t":37.3,"v":1},{"t":38.8,"v":6},{"t":40.5,"v":1},{"t":43.5,"v":24},{"t":48.6,"v":1},{"t":53.9,"v":12},{"t":57.2,"v":33},{"t":59.7,"v":1},{"t":60.5,"v":1},{"t":62.8,"v":53},{"t":65.3,"v":1}
]
},
"vconcat":[
{
"width":785,"height":260,
"encoding":{
"x":{"field":"t","type":"quantitative","scale":{"domain":[20,70],"nice":false,"zero":false},
"axis":{"title":null,"values":[20,25,30,35,40,45,50,55,60,65,70],"labelExpr":"datum.value % 10 == 0 ? datum.label : ''","tickSize":{"condition":{"test":"datum.value % 10 == 0","value":10},"value":5},"labelPadding":4}},
"y":{"field":"v","type":"quantitative","title":"Intensidad (%)","scale":{"domain":[-140,3168],"nice":false,"zero":false},
"axis":{"title":"Intensidad (%)","values":[0,288.8,577.6,866.4,1155.2,1444,1732.8,2021.6,2310.4,2599.2,2888],
"labelExpr":"abs(datum.value/577.6 - round(datum.value/577.6)) < 0.01 ? format(datum.value, '.1f') : ''",
"tickSize":{"condition":{"test":"abs(datum.value/577.6 - round(datum.value/577.6)) < 0.01","value":10},"value":5},
"labelPadding":8,"titleX":-107,"titleY":130,"titleAngle":270,"titleAlign":"center","titleBaseline":"middle"}}},
"layer":[
{"data":{"name":"xrd"},"mark":{"type":"point","shape":"circle","filled":false,"color":"#e8302c","size":50,"strokeWidth":1.5,"clip":true}},
{"data":{"name":"xrd2"},"mark":{"type":"point","shape":"circle","filled":false,"color":"#e8302c","size":50,"strokeWidth":1.5,"clip":true}},
{"data":{"name":"xrd"},"mark":{"type":"line","color":"#3b3bd1","strokeWidth":1.8,"clip":true},
"encoding":{"y":{"field":"f","type":"quantitative","title":"Intensidad (%)"}}},
{"data":{"values":[{"t":30.06,"v":1348,"s":"(220)"},{"t":37.5,"v":2633,"s":"(331)"},{"t":43.44,"v":1119,"s":"(400)"},{"t":53.44,"v":750,"s":"(422)"},{"t":57.58,"v":1221,"s":"(511)"},{"t":62.87,"v":1895,"s":"(440)"}]},
"mark":{"type":"text","angle":270,"fontSize":20,"color":"#222","align":"center","baseline":"middle"},
"encoding":{"text":{"field":"s"}}},
{"data":{"values":[{"t":20.7,"v":2557,"s":"MNPs-GPTS"}]},
"mark":{"type":"text","fontSize":24,"color":"#333","align":"left","baseline":"middle"},
"encoding":{"text":{"field":"s"}}},
{"data":{"values":[{"t":22.1,"v":725,"s":"A"}]},
"mark":{"type":"text","fontSize":18,"fontWeight":"bold","color":"#111","align":"center","baseline":"middle"},
"encoding":{"text":{"field":"s"}}},
{"data":{"values":[{"t":51.53,"t2":68.47,"v":2837,"v2":2480}]},
"mark":{"type":"rect","color":"#000"},
"encoding":{"x2":{"field":"t2"},"y2":{"field":"v2"}}},
{"data":{"values":[{"t":51.08,"t2":68.09,"v":2926,"v2":2557}]},
"mark":{"type":"rect","fill":"white","stroke":"#000","strokeWidth":1.5},
"encoding":{"x2":{"field":"t2"},"y2":{"field":"v2"}}},
{"data":{"values":[{"t":59.55,"v":2735,"s":"Tamaño cristalino: 9 nm"}]},
"mark":{"type":"text","fontSize":21,"color":"#222","align":"center","baseline":"middle"},
"encoding":{"text":{"field":"s"}}}
]
},
{
"width":785,"height":260,
"encoding":{
"x":{"field":"t","type":"quantitative","scale":{"domain":[20,70],"nice":false,"zero":false},
"axis":{"title":"2Theta (deg)","titlePadding":14,"values":[20,25,30,35,40,45,50,55,60,65,70],"labelExpr":"datum.value % 10 == 0 ? datum.label : ''","tickSize":{"condition":{"test":"datum.value % 10 == 0","value":10},"value":5},"labelPadding":4}},
"y":{"field":"v","type":"quantitative","title":"Intensidad (%)","scale":{"domain":[0,110],"nice":false},
"axis":{"title":"Intensidad (%)","values":[0,10,20,30,40,50,60,70,80,90,100],
"labelExpr":"datum.value % 20 == 0 ? datum.label : ''",
"tickSize":{"condition":{"test":"datum.value % 20 == 0","value":10},"value":5},
"labelPadding":8,"titleX":-107,"titleY":119,"titleAngle":270,"titleAlign":"center","titleBaseline":"middle"}}},
"layer":[
{"data":{"name":"ref"},"mark":{"type":"bar","size":5,"color":"#e23b3b","orient":"vertical"}},
{"data":{"values":[{"t":21.6,"v":88,"s":"γ-Fe₂O₃"}]},
"mark":{"type":"text","fontSize":24,"color":"#333","align":"left","baseline":"middle"},
"encoding":{"text":{"field":"s"}}},
{"data":{"values":[{"t":21.85,"v":26.6,"s":"B"}]},
"mark":{"type":"text","fontSize":18,"fontWeight":"bold","color":"#111","align":"center","baseline":"middle"},
"encoding":{"text":{"field":"s"}}},
{"data":{"values":[{"t":57.45,"t2":68.03,"v":98.4,"v2":67.6}]},
"mark":{"type":"rect","color":"#000"},
"encoding":{"x2":{"field":"t2"},"y2":{"field":"v2"}}},
{"data":{"values":[{"t":57.0,"t2":67.52,"v":102.2,"v2":70.55}]},
"mark":{"type":"rect","fill":"white","stroke":"#000","strokeWidth":1.5},
"encoding":{"x2":{"field":"t2"},"y2":{"field":"v2"}}},
{"data":{"values":[{"t":62.74,"v":92.9,"s":"Referencia:"},{"t":62.87,"v":80.3,"s":"00-004-0755"}]},
"mark":{"type":"text","fontSize":22,"color":"#222","align":"center","baseline":"middle"},
"encoding":{"text":{"field":"s"}}}
]
}
]
}
